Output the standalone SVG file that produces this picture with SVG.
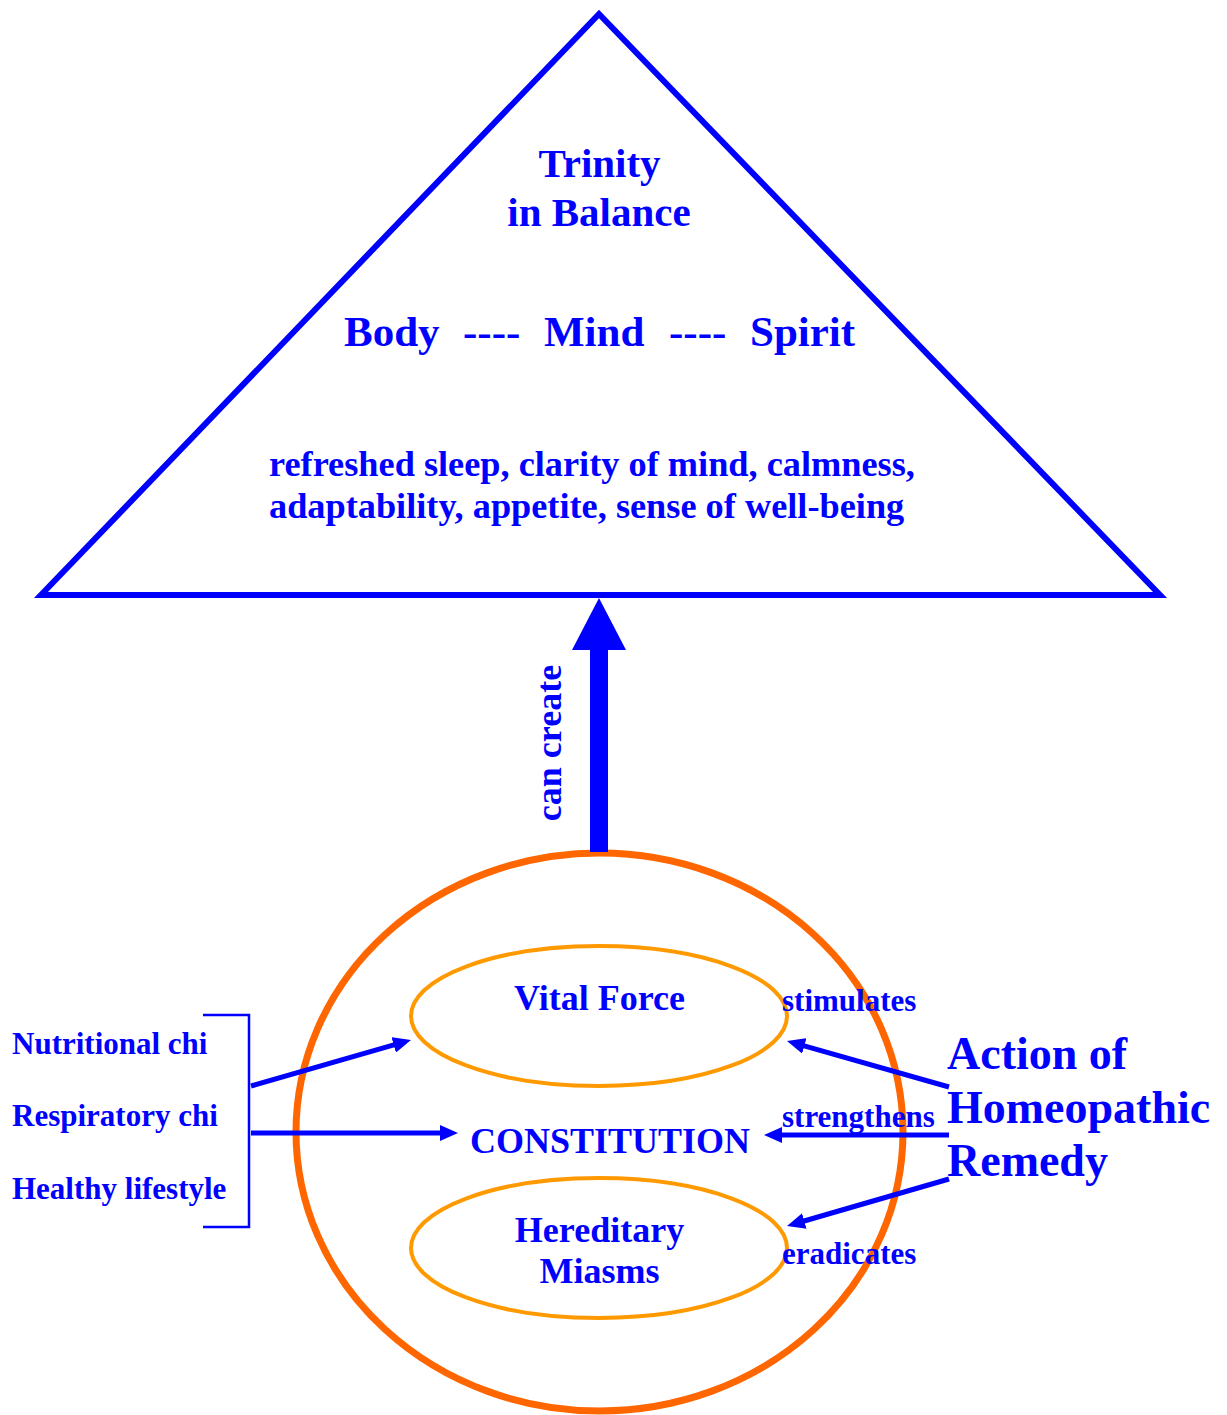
<svg xmlns="http://www.w3.org/2000/svg" width="1227" height="1415" viewBox="0 0 1227 1415">
<style>
text{font-family:"Liberation Serif","Times New Roman",serif;font-weight:bold;fill:#0000FF}
.c{text-anchor:middle}
.conn{stroke:#0000FF;stroke-width:5;fill:none}
.br{stroke:#0000FF;stroke-width:2.5;fill:none}
</style>
<defs>
<marker id="ah" markerUnits="userSpaceOnUse" markerWidth="18" markerHeight="16" viewBox="0 0 18 16" refX="2" refY="8" orient="auto">
<path d="M0,0 L18,8 L0,16 z" fill="#0000FF"/>
</marker>
</defs>
<rect width="1227" height="1415" fill="#FFFFFF"/>
<g id="triangle">
<polygon points="599,14 41,595 1160,595" fill="none" stroke="#0000FF" stroke-width="6" stroke-linejoin="miter"/>
<text class="c" x="599.5" y="177" font-size="41">Trinity</text>
<text class="c" x="599" y="226" font-size="41">in Balance</text>
<text x="344" y="346" font-size="43">Body</text>
<text x="463" y="346" font-size="43">----</text>
<text x="544" y="346" font-size="43">Mind</text>
<text x="669" y="346" font-size="43">----</text>
<text x="750" y="346" font-size="43">Spirit</text>
<text x="269" y="476" font-size="36.3">refreshed sleep, clarity of mind, calmness,</text>
<text x="269" y="518" font-size="36.3">adaptability, appetite, sense of well-being</text>
</g>
<g id="constitution-circle">
<ellipse cx="599.5" cy="1132" rx="303.5" ry="279" fill="none" stroke="#FF6600" stroke-width="7"/>
<text class="c" x="610" y="1153" font-size="36">CONSTITUTION</text>
</g>
<g id="vital-force">
<ellipse cx="599" cy="1016" rx="188" ry="70" fill="none" stroke="#FF9900" stroke-width="4"/>
<text class="c" x="599.5" y="1010" font-size="36">Vital Force</text>
</g>
<g id="hereditary-miasms">
<ellipse cx="599" cy="1248" rx="188" ry="70" fill="none" stroke="#FF9900" stroke-width="4"/>
<text class="c" x="599.5" y="1242" font-size="36">Hereditary</text>
<text class="c" x="599.5" y="1283" font-size="36">Miasms</text>
</g>
<g id="inputs">
<text x="12" y="1054" font-size="31">Nutritional chi</text>
<text x="12" y="1126" font-size="31">Respiratory chi</text>
<text x="12" y="1199" font-size="31">Healthy lifestyle</text>
<path class="br" d="M203,1015 H249 V1227 H203"/>
</g>
<g id="remedy">
<text x="947" y="1069" font-size="46">Action of</text>
<text x="947" y="1123" font-size="46">Homeopathic</text>
<text x="947" y="1176" font-size="46">Remedy</text>
</g>
<g id="connectors">
<polygon points="590,852 590,650 572,650 599,598 626,650 608,650 608,852" fill="#0000FF"/>
<text transform="translate(561,743) rotate(-90)" class="c" font-size="36">can create</text>
<line class="conn" x1="251" y1="1086" x2="395.6" y2="1044.4" marker-end="url(#ah)"/>
<line class="conn" x1="251" y1="1133" x2="442" y2="1133" marker-end="url(#ah)"/>
<line class="conn" x1="949" y1="1087" x2="802.4" y2="1045.4" marker-end="url(#ah)"/>
<line class="conn" x1="949" y1="1135" x2="780" y2="1135" marker-end="url(#ah)"/>
<line class="conn" x1="949" y1="1179" x2="802.4" y2="1221.5" marker-end="url(#ah)"/>
<text x="782" y="1011" font-size="31">stimulates</text>
<text x="782" y="1127" font-size="31">strengthens</text>
<text x="782" y="1264" font-size="31">eradicates</text>
</g>
</svg>
